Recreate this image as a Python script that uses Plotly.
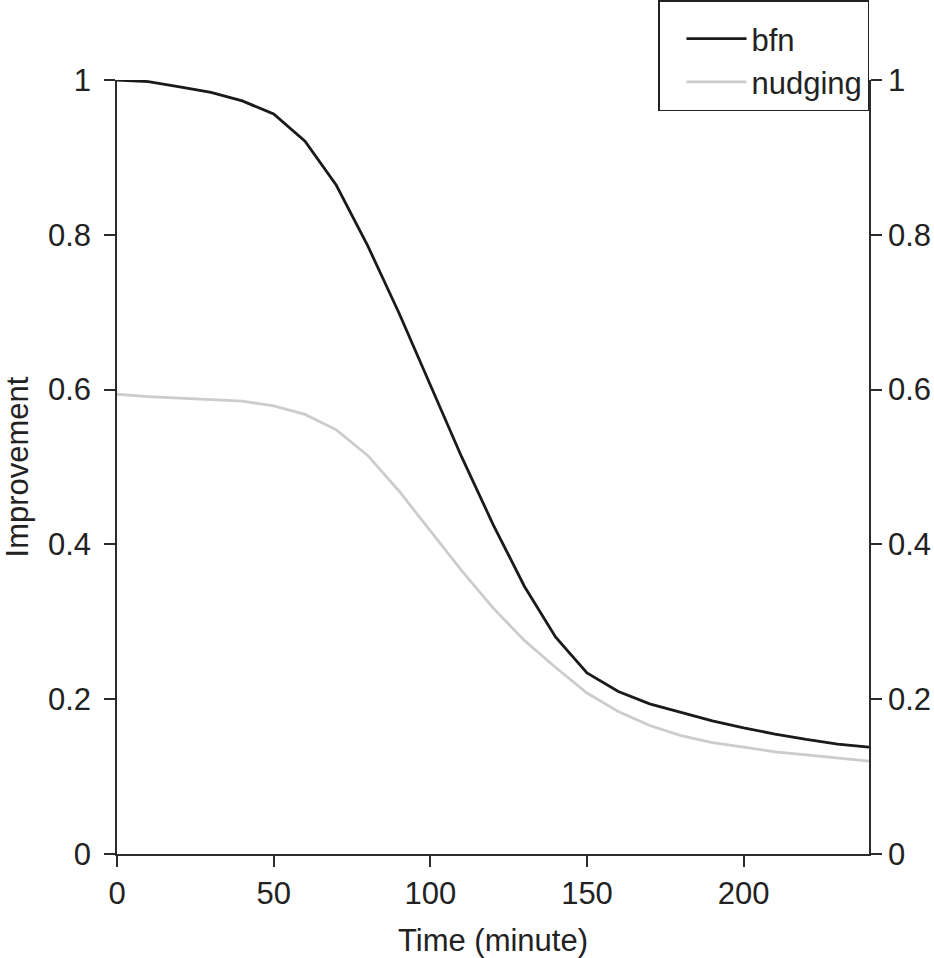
import plotly.graph_objects as go

# --------------------------
# Data
# --------------------------
time_min = [0, 10, 20, 30, 40, 50, 60, 70, 80, 90, 100, 110, 120,
            130, 140, 150, 160, 170, 180, 190, 200, 210, 220, 230, 240]

bfn = [1.000, 0.998, 0.991, 0.984, 0.973, 0.956, 0.921, 0.864, 0.786,
       0.699, 0.606, 0.513, 0.426, 0.346, 0.280, 0.234, 0.210, 0.194,
       0.183, 0.172, 0.163, 0.155, 0.148, 0.142, 0.138]

nudging = [0.594, 0.591, 0.589, 0.587, 0.585, 0.579, 0.568, 0.548, 0.515,
           0.469, 0.417, 0.366, 0.318, 0.276, 0.241, 0.208, 0.184, 0.166,
           0.153, 0.144, 0.138, 0.132, 0.128, 0.124, 0.120]

x_ticks = [0, 50, 100, 150, 200]
y_ticks = [0, 0.2, 0.4, 0.6, 0.8, 1]
y_tick_text = ["0", "0.2", "0.4", "0.6", "0.8", "1"]

FONT = "Liberation Sans, Arial, sans-serif"
TEXT_COLOR = "#222222"
AXIS_COLOR = "#2b2b2b"
FS = 31

# --------------------------
# Figure
# --------------------------
fig = go.Figure()

fig.add_trace(go.Scatter(
    x=time_min, y=bfn, name="bfn", mode="lines",
    line=dict(color="#1a1a1a", width=2.8),
))
fig.add_trace(go.Scatter(
    x=time_min, y=nudging, name="nudging", mode="lines",
    line=dict(color="#cccccc", width=2.8),
))
# same curve bound to the right-hand axis so that axis gets drawn (invisible)
fig.add_trace(go.Scatter(
    x=time_min, y=bfn, yaxis="y2", mode="lines", showlegend=False,
    hoverinfo="skip", line=dict(color="rgba(0,0,0,0)", width=0),
))

axis_common = dict(
    showgrid=False, zeroline=False, automargin=True,
    showline=True, linecolor=AXIS_COLOR, linewidth=1.5,
    ticks="outside", ticklen=11, tickwidth=1.5, tickcolor=AXIS_COLOR,
    tickfont=dict(family=FONT, size=FS, color=TEXT_COLOR),
)

fig.update_layout(
    width=934, height=958,
    margin=dict(l=117, r=65, t=80, b=104, autoexpand=False),
    paper_bgcolor="white", plot_bgcolor="white",
    font=dict(family=FONT, size=FS, color=TEXT_COLOR),
    xaxis=dict(
        range=[0, 240], tickvals=x_ticks,
        title=dict(text="Time (minute)", standoff=31,
                   font=dict(family=FONT, size=FS, color=TEXT_COLOR)),
        **axis_common,
    ),
    yaxis=dict(
        range=[0, 1], tickvals=y_ticks, ticktext=y_tick_text,
        ticklabelstandoff=7,
        title=dict(text="Improvement", standoff=28,
                   font=dict(family=FONT, size=FS, color=TEXT_COLOR)),
        **axis_common,
    ),
    yaxis2=dict(
        range=[0, 1], tickvals=y_ticks, ticktext=y_tick_text,
        ticklabelstandoff=0,
        overlaying="y", side="right",
        **axis_common,
    ),
    legend=dict(
        xref="paper", x=1, xanchor="right",
        yref="container", y=1, yanchor="top",
        bgcolor="white", bordercolor=TEXT_COLOR, borderwidth=1.5,
        font=dict(family=FONT, size=FS, color=TEXT_COLOR),
        itemwidth=60, indentation=22,
        # blank, small title: only adds a little room above the entries
        title=dict(text="\u00a0", font=dict(size=8)),
    ),
    showlegend=True,
)

# drop the browser's default page margin so the figure fills the window
fig.write_html(
    "out.html",
    config={"displayModeBar": False},
    post_script="document.body.style.margin='0';"
                "document.body.style.overflow='hidden';",
)
